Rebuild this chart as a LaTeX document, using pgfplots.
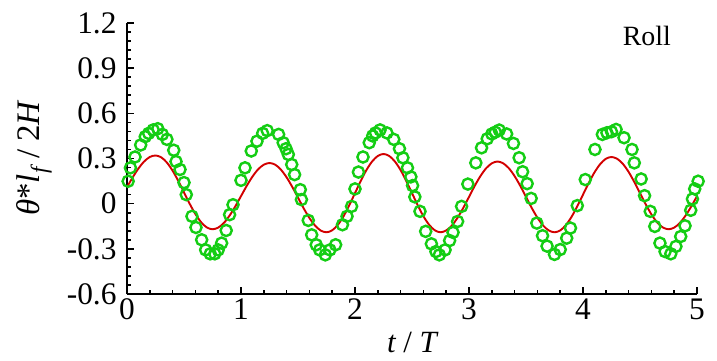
\documentclass[border=0pt]{standalone}
\usepackage{fontspec}
\setmainfont{Liberation Serif}
\usepackage{pgfplots}
\pgfplotsset{compat=1.18}
\definecolor{lgreen}{RGB}{20,205,20}
\definecolor{dred}{RGB}{210,0,0}
\begin{document}
\begin{tikzpicture}
\begin{axis}[
  scale only axis, width=570bp, height=271bp,
  xmin=0, xmax=5, ymin=-0.6, ymax=1.2,
  axis lines*=left,
  axis line style={line width=2.2bp},
  tick align=inside,
  xtick={0,1,2,3,4,5}, xticklabels={0,1,2,3,4,5},
  ytick={-0.6,-0.3,0,0.3,0.6,0.9,1.2},
  yticklabels={-0.6,-0.3,0,0.3,0.6,0.9,1.2},
  minor x tick num=4, minor y tick num=4,
  major tick length=7bp, minor tick length=4bp,
  every tick/.style={black, line width=1.6bp},
  ticklabel style={font=\fontsize{31.5}{31.5}\selectfont},
  xticklabel style={yshift=-1bp},
  yticklabel style={xshift=-7bp},
  xlabel={{\itshape t} / {\itshape T}},
  ylabel={{\itshape θ}*{\itshape l}\textsubscript{\itshape f} / 2{\itshape H}},
  label style={font=\fontsize{31}{31}\selectfont},
  xlabel style={at={(axis description cs:0.5,0)}, anchor=base, yshift=-58bp},
  ylabel style={at={(axis description cs:-0.163,0.5)}, anchor=center, font=\fontsize{33}{33}\selectfont},
  clip=false,
]
\coordinate (bl) at (rel axis cs:0,0);
\coordinate (tr) at (rel axis cs:1,1);
\addplot[only marks, mark=o, mark size=5.6bp, lgreen, line width=2.4bp] coordinates {
(0.01,0.149)(0.03,0.238)(0.07,0.31)(0.12,0.39)(0.16,0.445)(0.19,0.467)(0.23,0.49)(0.27,0.498)
(0.31,0.46)(0.35,0.427)(0.41,0.355)(0.43,0.28)(0.465,0.227)(0.50,0.14)(0.52,0.06)(0.57,-0.084)
(0.605,-0.158)(0.655,-0.24)(0.69,-0.307)(0.73,-0.333)(0.77,-0.333)(0.80,-0.307)(0.83,-0.262)
(0.87,-0.178)(0.90,-0.073)(0.93,-0.007)
(1.00,0.155)(1.035,0.238)(1.09,0.35)(1.14,0.415)(1.19,0.467)(1.23,0.485)(1.33,0.46)(1.37,0.405)
(1.395,0.365)(1.415,0.327)(1.445,0.26)(1.47,0.193)(1.52,0.093)(1.53,0.027)(1.59,-0.111)
(1.62,-0.207)(1.66,-0.273)(1.69,-0.307)(1.74,-0.34)(1.78,-0.307)(1.83,-0.273)(1.89,-0.14)
(1.93,-0.084)(1.97,-0.018)
(2.00,0.098)(2.03,0.21)(2.07,0.31)(2.125,0.405)(2.155,0.45)(2.18,0.47)(2.22,0.49)(2.28,0.47)
(2.34,0.427)(2.39,0.365)(2.42,0.305)(2.46,0.238)(2.49,0.178)(2.505,0.12)(2.525,0.045)
(2.57,-0.051)(2.62,-0.184)(2.67,-0.267)(2.71,-0.318)(2.74,-0.34)(2.79,-0.307)(2.83,-0.245)
(2.86,-0.191)(2.90,-0.118)(2.935,-0.018)
(2.99,0.13)(3.06,0.271)(3.11,0.371)(3.16,0.431)(3.20,0.463)(3.23,0.475)(3.265,0.489)(3.33,0.463)
(3.39,0.40)(3.44,0.305)(3.47,0.212)(3.51,0.133)(3.545,0.035)(3.595,-0.129)(3.645,-0.213)
(3.685,-0.282)(3.75,-0.337)(3.80,-0.305)(3.857,-0.229)(3.89,-0.162)(3.95,-0.013)
(4.02,0.16)(4.105,0.36)(4.17,0.46)(4.21,0.471)(4.25,0.478)(4.29,0.493)(4.36,0.438)(4.43,0.36)
(4.45,0.271)(4.51,0.164)(4.54,0.053)(4.59,-0.051)(4.63,-0.151)(4.675,-0.262)(4.72,-0.318)
(4.77,-0.333)(4.815,-0.284)(4.857,-0.218)(4.895,-0.147)(4.945,-0.044)(4.96,0.031)(4.98,0.098)
(5.01,0.149)
};
\addplot[dred, line width=1.9bp, smooth] coordinates {
(0.00,0.11)(0.05,0.175)(0.10,0.233)(0.15,0.280)(0.20,0.310)(0.25,0.32)
(0.30,0.308)(0.35,0.273)(0.40,0.219)(0.45,0.151)(0.50,0.075)(0.55,-0.001)(0.60,-0.069)
(0.65,-0.123)(0.70,-0.158)(0.75,-0.17)
(0.80,-0.159)(0.85,-0.128)(0.90,-0.079)(0.95,-0.018)(1.00,0.05)(1.05,0.118)(1.10,0.179)
(1.15,0.228)(1.20,0.259)(1.25,0.27)
(1.30,0.259)(1.35,0.226)(1.40,0.175)(1.45,0.111)(1.50,0.04)(1.55,-0.031)(1.60,-0.095)
(1.65,-0.146)(1.70,-0.179)(1.75,-0.19)
(1.80,-0.177)(1.85,-0.140)(1.90,-0.083)(1.95,-0.010)(2.00,0.07)(2.05,0.150)(2.10,0.223)
(2.15,0.280)(2.20,0.317)(2.25,0.33)
(2.30,0.317)(2.35,0.280)(2.40,0.223)(2.45,0.150)(2.50,0.07)(2.55,-0.010)(2.60,-0.083)
(2.65,-0.140)(2.70,-0.177)(2.75,-0.19)
(2.80,-0.178)(2.85,-0.145)(2.90,-0.093)(2.95,-0.028)(3.00,0.045)(3.05,0.118)(3.10,0.183)
(3.15,0.235)(3.20,0.268)(3.25,0.28)
(3.30,0.268)(3.35,0.235)(3.40,0.183)(3.45,0.118)(3.50,0.045)(3.55,-0.028)(3.60,-0.093)
(3.65,-0.145)(3.70,-0.178)(3.75,-0.19)
(3.80,-0.178)(3.85,-0.142)(3.90,-0.087)(3.95,-0.017)(4.00,0.06)(4.05,0.137)(4.10,0.207)
(4.15,0.262)(4.20,0.298)(4.25,0.31)
(4.30,0.298)(4.35,0.264)(4.40,0.211)(4.45,0.144)(4.50,0.07)(4.55,-0.004)(4.60,-0.071)
(4.65,-0.124)(4.70,-0.158)(4.75,-0.17)
(4.80,-0.159)(4.85,-0.128)(4.90,-0.079)(4.95,-0.018)(5.00,0.05)
};
\node[anchor=base, font=\fontsize{28}{28}\selectfont] at (axis cs:4.56,1.053) {Roll};
\end{axis}
\pgfresetboundingbox
\path ([xshift=-127bp,yshift=-67bp]bl) rectangle ([xshift=20bp,yshift=23bp]tr);
\end{tikzpicture}
\end{document}
